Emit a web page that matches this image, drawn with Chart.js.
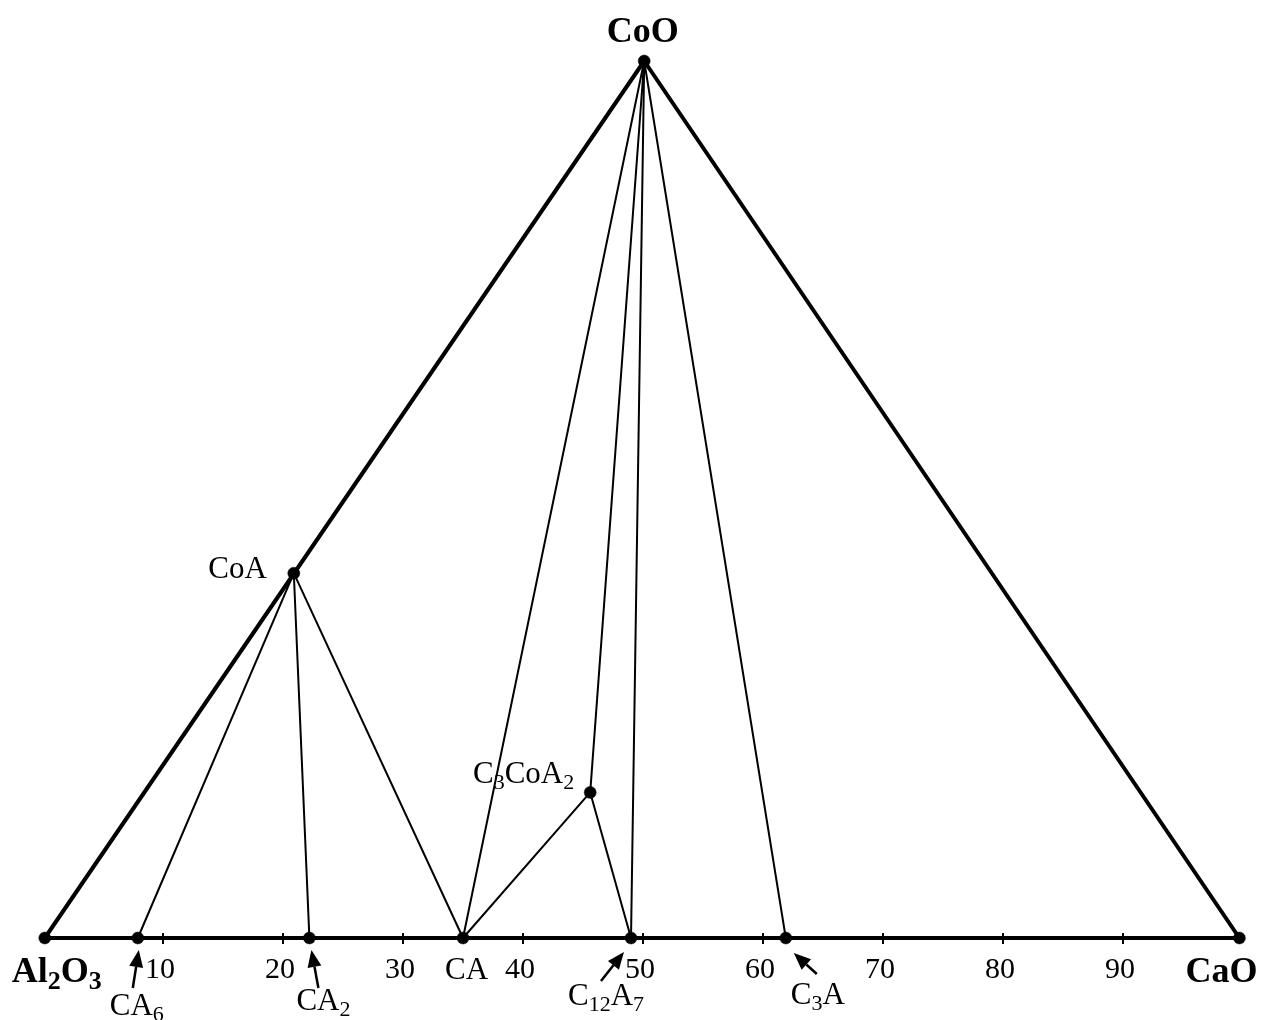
<!DOCTYPE html>
<html><head><meta charset="utf-8">
<script src="https://cdn.jsdelivr.net/npm/chart.js@4/dist/chart.umd.min.js"></script>
<style>html,body{margin:0;padding:0;background:#fff;} canvas{display:block}</style>
</head><body>
<canvas id="c" width="1265" height="1020"></canvas>
<script>
// ---- Data (x: position along Al2O3–CaO base, y: height toward CoO) ----
const vertexNames = ["Al2O3", "CaO", "CoO"];
const vertexX = [0.15, 99.7, 50.1];
const vertexY = [0, 0, 100];
const vertexLabels = ["Al_2O_3", "CaO", "CoO"];

const compoundNames = ["CoA", "C3CoA2", "CA6", "CA2", "CA", "C12A7", "C3A"];
const compoundX = [20.9, 45.6, 7.9, 22.2, 35.0, 49.0, 61.9];
const compoundY = [41.6, 16.6, 0, 0, 0, 0, 0];
const compoundLabels = ["CoA", "C_3CoA_2", "CA_6", "CA_2", "CA", "C_12A_7", "C_3A"];

const edges = [["Al2O3", "CoO"], ["CoO", "CaO"], ["Al2O3", "CaO"]];
const tieLines = [["CoA","CA6"],["CoA","CA2"],["CoA","CA"],["CA","CoO"],["CA","C3CoA2"],
                  ["C3CoA2","CoO"],["C3CoA2","C12A7"],["C12A7","CoO"],["C3A","CoO"]];
const tickValues = [10, 20, 30, 40, 50, 60, 70, 80, 90];
const arrowedCompounds = ["CA6", "CA2", "C12A7", "C3A"];

// ---- lookup ----
const pts = {};
vertexNames.forEach((n, i) => pts[n] = {x: vertexX[i], y: vertexY[i]});
compoundNames.forEach((n, i) => pts[n] = {x: compoundX[i], y: compoundY[i]});

// ---- styling / layout (pixel offsets from point) ----
const labelStyle = {
  "Al2O3": {dx: -33, dy: 44, align: "left", bold: true},
  "CaO":   {dx: 18, dy: 44, align: "right", bold: true},
  "CoO":   {dx: -1.5, dy: -19, align: "center", bold: true},
  "CoA":   {dx: -27, dy: 5, align: "right"},
  "C3CoA2":{dx: -16, dy: -9, align: "right"},
  "CA6":   {dx: -28, dy: 77, align: "left"},
  "CA2":   {dx: -13, dy: 72, align: "left"},
  "CA":    {dx: -18, dy: 41, align: "left"},
  "C12A7": {dx: -63, dy: 67, align: "left"},
  "C3A":   {dx: 5, dy: 66, align: "left"}
};
const arrowStyle = {
  "CA6":   {sx: -5, sy: 50, tx: 1, ty: 12},
  "CA2":   {sx: 9, sy: 50, tx: 2, ty: 12},
  "C12A7": {sx: -30, sy: 43, tx: -7, ty: 14},
  "C3A":   {sx: 31, sy: 36, tx: 8, ty: 15}
};

const datasets = [];
datasets.push({
  type: "scatter",
  data: vertexNames.concat(compoundNames).map(n => pts[n]),
  pointRadius: 6, pointHoverRadius: 6,
  backgroundColor: "#000", borderColor: "#000", borderWidth: 0.5,
  showLine: false, clip: false, order: 0
});
edges.forEach(e => datasets.push({
  type: "scatter", data: e.map(n => pts[n]), showLine: true,
  borderColor: "#000", borderWidth: 4, pointRadius: 0, clip: false, order: 1
}));
tieLines.forEach(e => datasets.push({
  type: "scatter", data: e.map(n => pts[n]), showLine: true,
  borderColor: "#000", borderWidth: 2, pointRadius: 0, clip: false, order: 2
}));

function parseChem(s) {
  const parts = [];
  const re = /_(\d+)|([^_]+?)(?=_|$)/g;
  let m;
  while ((m = re.exec(s)) !== null) {
    if (m[1] !== undefined) parts.push([m[1], true]);
    else if (m[2]) parts.push([m[2], false]);
  }
  return parts;
}
function drawChem(ctx, s, x, y, align, bold) {
  const size = bold ? 36 : 31;
  const subSize = bold ? 26 : 22;
  const w = bold ? "bold " : "";
  const parts = parseChem(s);
  let total = 0;
  parts.forEach(p => {
    ctx.font = w + (p[1] ? subSize : size) + "px 'Liberation Serif', 'Times New Roman', serif";
    total += ctx.measureText(p[0]).width;
  });
  let cx = align === "left" ? x : align === "right" ? x - total : x - total / 2;
  ctx.textAlign = "left";
  ctx.textBaseline = "alphabetic";
  parts.forEach(p => {
    ctx.font = w + (p[1] ? subSize : size) + "px 'Liberation Serif', 'Times New Roman', serif";
    ctx.fillText(p[0], cx, y + (p[1] ? (bold ? 7 : 6) : 0));
    cx += ctx.measureText(p[0]).width;
  });
}

const overlay = {
  id: "overlay",
  afterDraw(chart) {
    const ctx = chart.ctx, xs = chart.scales.x, ys = chart.scales.y;
    const y0 = ys.getPixelForValue(0);
    ctx.save();
    ctx.fillStyle = "#000"; ctx.strokeStyle = "#000";
    // ticks
    ctx.lineWidth = 2;
    tickValues.forEach(v => {
      const px = xs.getPixelForValue(v);
      ctx.beginPath(); ctx.moveTo(px, y0 - 5); ctx.lineTo(px, y0 + 6); ctx.stroke();
      ctx.font = "30px 'Liberation Serif', 'Times New Roman', serif";
      ctx.textAlign = "center"; ctx.textBaseline = "alphabetic";
      ctx.fillText(String(v), px - 3, y0 + 40);
    });
    // labels
    const allNames = vertexNames.concat(compoundNames);
    const allLabels = vertexLabels.concat(compoundLabels);
    allNames.forEach((n, i) => {
      const st = labelStyle[n];
      const px = xs.getPixelForValue(pts[n].x), py = ys.getPixelForValue(pts[n].y);
      drawChem(ctx, allLabels[i], px + st.dx, py + st.dy, st.align, !!st.bold);
    });
    // arrows
    arrowedCompounds.forEach(n => {
      const a = arrowStyle[n];
      const px = xs.getPixelForValue(pts[n].x), py = ys.getPixelForValue(pts[n].y);
      const sx = px + a.sx, sy = py + a.sy, tx = px + a.tx, ty = py + a.ty;
      const ang = Math.atan2(ty - sy, tx - sx);
      const L = 17, H = 7;
      const bx = tx - L * Math.cos(ang), by = ty - L * Math.sin(ang);
      ctx.lineWidth = 2.5;
      ctx.beginPath(); ctx.moveTo(sx, sy); ctx.lineTo(bx, by); ctx.stroke();
      ctx.beginPath();
      ctx.moveTo(tx, ty);
      ctx.lineTo(bx + H * Math.sin(ang), by - H * Math.cos(ang));
      ctx.lineTo(bx - H * Math.sin(ang), by + H * Math.cos(ang));
      ctx.closePath(); ctx.fill();
    });
    ctx.restore();
  }
};

new Chart(document.getElementById("c"), {
  type: "scatter",
  data: {datasets},
  options: {
    responsive: false, animation: false,
    layout: {padding: {left: 43, right: 22, top: 61, bottom: 82}},
    plugins: {legend: {display: false}, tooltip: {enabled: false}},
    scales: {
      x: {type: "linear", min: 0, max: 100, display: false},
      y: {type: "linear", min: 0, max: 100, display: false}
    },
    elements: {line: {tension: 0, borderCapStyle: "round"}}
  },
  plugins: [overlay]
});
</script>
</body></html>
